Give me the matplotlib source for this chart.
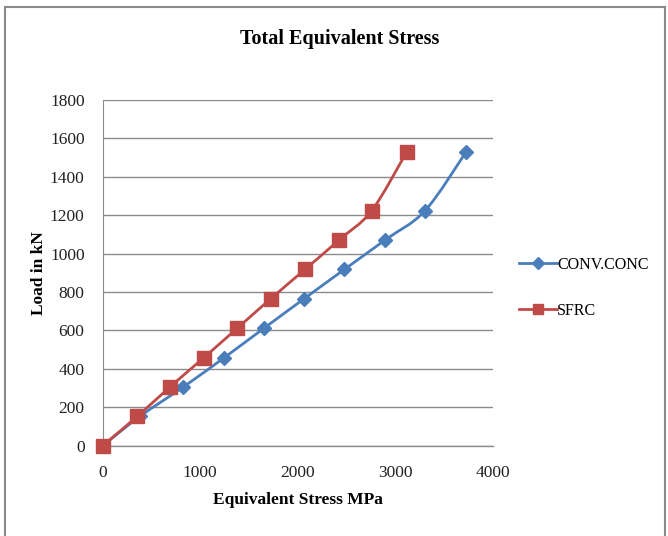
import numpy as np
import matplotlib.pyplot as plt
from matplotlib.path import Path
from matplotlib.patches import PathPatch, Rectangle
from matplotlib.lines import Line2D

# load steps (kN) and equivalent stress (MPa)
load = [0, 153, 306, 459, 612, 765, 918, 1071, 1224, 1530]
conv_stress = [0, 383, 828, 1248, 1655, 2065, 2479, 2896, 3306, 3727]
sfrc_stress = [0, 356, 690, 1039, 1381, 1723, 2075, 2424, 2759, 3118]

blue = '#4A7EBB'
red = '#BE4B48'
grid_col = '#8C8C8C'

plt.rcParams['font.family'] = ['Liberation Serif', 'DejaVu Serif']


def smooth_path(x, y):
    # Catmull-Rom style bezier through the points (like a smoothed line)
    pts = np.column_stack([x, y]).astype(float)
    n = len(pts)
    verts = [pts[0]]
    codes = [Path.MOVETO]
    for i in range(n - 1):
        p0 = pts[i - 1] if i > 0 else pts[i]
        p1 = pts[i]
        p2 = pts[i + 1]
        p3 = pts[i + 2] if i + 2 < n else pts[i + 1]
        c1 = p1 + (p2 - p0) / 6.0
        c2 = p2 - (p3 - p1) / 6.0
        verts += [c1, c2, p2]
        codes += [Path.CURVE4] * 3
    return Path(verts, codes)


fig = plt.figure(figsize=(6.68, 5.36), dpi=100)
ax = fig.add_axes([0.1537, 0.1685, 0.584, 0.645])

for xs, col, mk, ms in [(conv_stress, blue, 'D', 7.5), (sfrc_stress, red, 's', 9.5)]:
    patch = PathPatch(smooth_path(xs, load), facecolor='none', edgecolor=col,
                      lw=2.0, zorder=3, clip_on=False)
    ax.add_patch(patch)
    ax.plot(xs, load, ls='none', marker=mk, ms=ms, color=col, zorder=4, clip_on=False)

ax.set_xlim(0, 4000)
ax.set_ylim(0, 1800)
ax.set_xticks(np.arange(0, 4001, 1000))
ax.set_yticks(np.arange(0, 1801, 200))
ax.yaxis.grid(True, color=grid_col, lw=1.0)
ax.axhline(0, color=grid_col, lw=1.0, zorder=1, clip_on=False)
ax.set_axisbelow(True)
for s in ['top', 'right', 'bottom']:
    ax.spines[s].set_visible(False)
ax.spines['left'].set_color(grid_col)
ax.tick_params(length=0, labelsize=12.5, colors='#222222')
ax.tick_params(axis='y', pad=13)
ax.tick_params(axis='x', pad=14)

ax.set_xlabel('Equivalent Stress MPa', fontsize=12.5, fontweight='bold', labelpad=8)
ax.set_ylabel('Load in kN', fontsize=12.5, fontweight='bold')
ax.yaxis.set_label_coords(-0.143, 0.5)
fig.text(0.509, 0.928, 'Total Equivalent Stress', ha='center', va='center',
         fontsize=14.5, fontweight='bold')

# legend on the right
handles = [Line2D([], [], color=blue, lw=2, marker='D', ms=6),
           Line2D([], [], color=red, lw=2, marker='s', ms=7)]
fig.legend(handles, ['CONV.CONC', 'SFRC'], loc='center left',
           bbox_to_anchor=(0.755, 0.463), frameon=False, fontsize=11.5,
           handlelength=2.4, handletextpad=0.0, labelspacing=1.9)

# chart frame
fig.patches.append(Rectangle((0.008, -0.05), 0.988, 1.037, transform=fig.transFigure,
                             fill=False, edgecolor='#8a8a8a', lw=1.5))

fig.savefig('out.png', dpi=100)
